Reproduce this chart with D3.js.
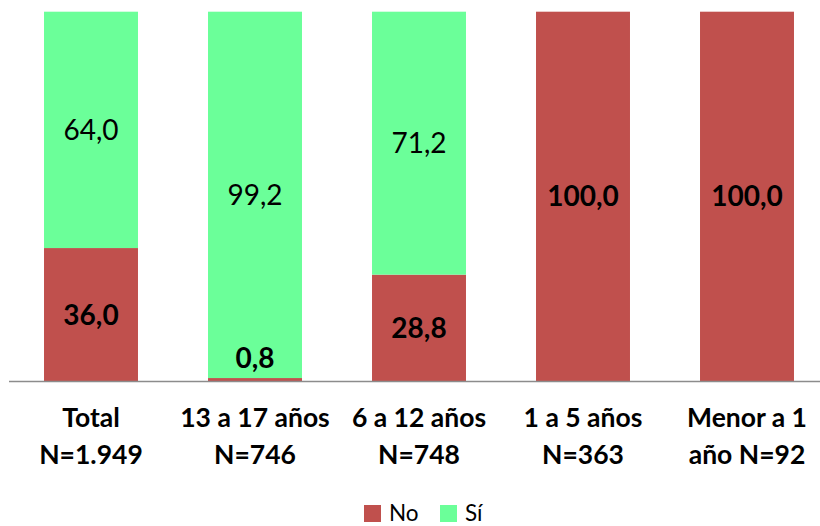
<!DOCTYPE html>
<html><head><meta charset="utf-8">
<script src="https://cdn.jsdelivr.net/npm/d3@7"></script>
<style>
html,body{margin:0;padding:0;background:#fff;}
svg{display:block;}
</style></head>
<body>
<svg id="chart" width="820" height="526"></svg>
<script>
const categories = [["Total","N=1.949"],["13 a 17 años","N=746"],["6 a 12 años","N=748"],["1 a 5 años","N=363"],["Menor a 1","año N=92"]];
const noValues = [36.0, 0.8, 28.8, 100.0, 100.0];
const siValues = [64.0, 99.2, 71.2, 0.0, 0.0];
const seriesNames = ["No","Sí"];
const colors = ["#C0504D","#6BFF99"];

const FONT = "Lato, 'Open Sans', sans-serif";
const svg = d3.select("#chart");
const keys = categories.map((c,i)=>i);
const x = d3.scaleBand().domain(keys).range([9,829]).paddingInner(0.427).paddingOuter(0.2135);
const y = d3.scaleLinear().domain([0,100]).range([381,11.7]);

const rows = keys.map(i=>({i, No:noValues[i], "Sí":siValues[i]}));
const stack = d3.stack().keys(seriesNames)(rows);

stack.forEach((s,si)=>{
  svg.append("g").selectAll("rect").data(s).join("rect")
    .attr("x", d=>x(d.data.i))
    .attr("width", x.bandwidth())
    .attr("y", d=>y(d[1]))
    .attr("height", d=>y(d[0])-y(d[1]))
    .attr("fill", colors[si]);
});

// axis baseline
svg.append("line").attr("x1",9).attr("x2",829).attr("y1",y(0)+0.5).attr("y2",y(0)+0.5)
  .attr("stroke","#8c8c8c").attr("stroke-width",1.5);

// data labels
const fmt = v => v.toFixed(1).replace(".",",");
stack.forEach((s,si)=>{
  s.forEach(d=>{
    const v = d[1]-d[0];
    if (v <= 0) return;
    let cy = (y(d[0])+y(d[1]))/2;
    cy = Math.min(cy, y(d[0]) - 23);
    svg.append("text")
      .attr("x", x(d.data.i)+x.bandwidth()/2)
      .attr("y", cy + 10)
      .attr("text-anchor","middle")
      .attr("font-family",FONT)
      .attr("font-size",28)
      .attr("font-weight", si===0 ? 700 : 400)
      .attr("fill","#000")
      .text(fmt(v));
  });
});

// category labels
const lab = svg.append("g");
categories.forEach((c,i)=>{
  const t = lab.append("text")
    .attr("x", x(i)+x.bandwidth()/2)
    .attr("text-anchor","middle")
    .attr("font-family",FONT).attr("font-size",26.5).attr("font-weight",700).attr("fill","#000");
  c.forEach((line,k)=>{
    t.append("tspan").attr("x", x(i)+x.bandwidth()/2).attr("y", 427 + k*37).text(line);
  });
});

// legend
const legend = svg.append("g");
const lx = [364, 440];
seriesNames.forEach((n,k)=>{
  legend.append("rect").attr("x",lx[k]).attr("y",505).attr("width",17).attr("height",17).attr("fill",colors[k]);
  legend.append("text").attr("x",lx[k]+25).attr("y",521)
    .attr("font-family",FONT).attr("font-size",22.5).attr("fill","#000").text(n);
});
</script>
</body></html>
